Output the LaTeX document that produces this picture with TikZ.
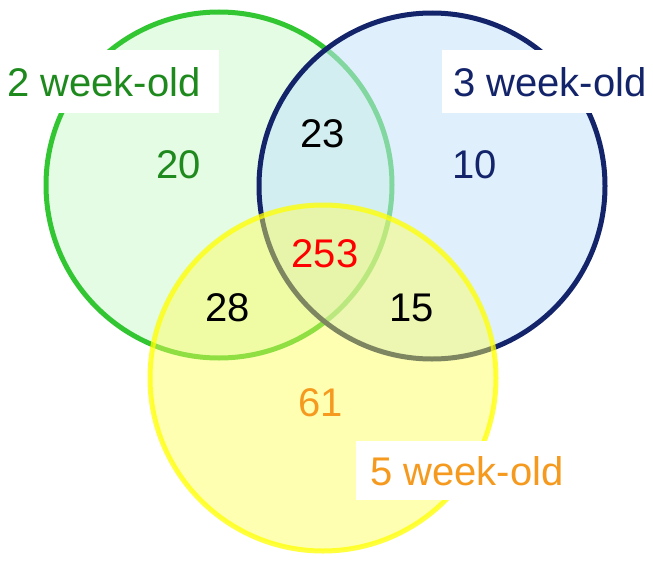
\documentclass[tikz,border=0pt]{standalone}
\usepackage{fontspec}
\setmainfont{Liberation Sans}
\begin{document}
\begin{tikzpicture}[x=1pt,y=-1pt,
  lbl/.style={font=\fontsize{40}{42}\selectfont},
  num/.style={font=\fontsize{40}{42}\selectfont}]
\useasboundingbox (0,0) rectangle (653,562);
\definecolor{gS}{HTML}{33C633}\definecolor{gF}{HTML}{E4FBE4}
\definecolor{bS}{HTML}{14246A}\definecolor{bF}{HTML}{C4E4FA}
\definecolor{yS}{HTML}{FFFF00}\definecolor{yF}{HTML}{FFFF55}
\definecolor{dg}{HTML}{1E8A1E}\definecolor{or}{HTML}{F59A1E}
\fill[gF] (219,185) circle (173);
\draw[gS,line width=5] (219,185) circle (173);
\fill[bF,fill opacity=0.55] (432,186) circle (173);
\draw[bS,line width=5] (432,186) circle (173);
\fill[yF,fill opacity=0.45] (323,378) circle (173);
\draw[yS,line width=5,draw opacity=0.75] (323,378) circle (173);
\fill[white] (0,50) rectangle (219,113);
\fill[white] (442,50) rectangle (653,113);
\fill[white] (356,441) rectangle (567,500);
\node[lbl,text=dg] (l2) at (104,82) {2 week-old};
\node[lbl,text=bS] (l3) at (550,82) {3 week-old};
\node[lbl,text=or] (l5) at (467,471) {5 week-old};
\node[num,text=dg] (n20) at (179,165) {20};
\node[num] (n23) at (323,134) {23};
\node[num,text=bS] (n10) at (475,165) {10};
\node[num,text=red] (n253) at (325,254) {253};
\node[num] (n28) at (228,308) {28};
\node[num] (n15) at (412,308) {15};
\node[num,text=or] (n61) at (321,403) {61};
\end{tikzpicture}
\end{document}
